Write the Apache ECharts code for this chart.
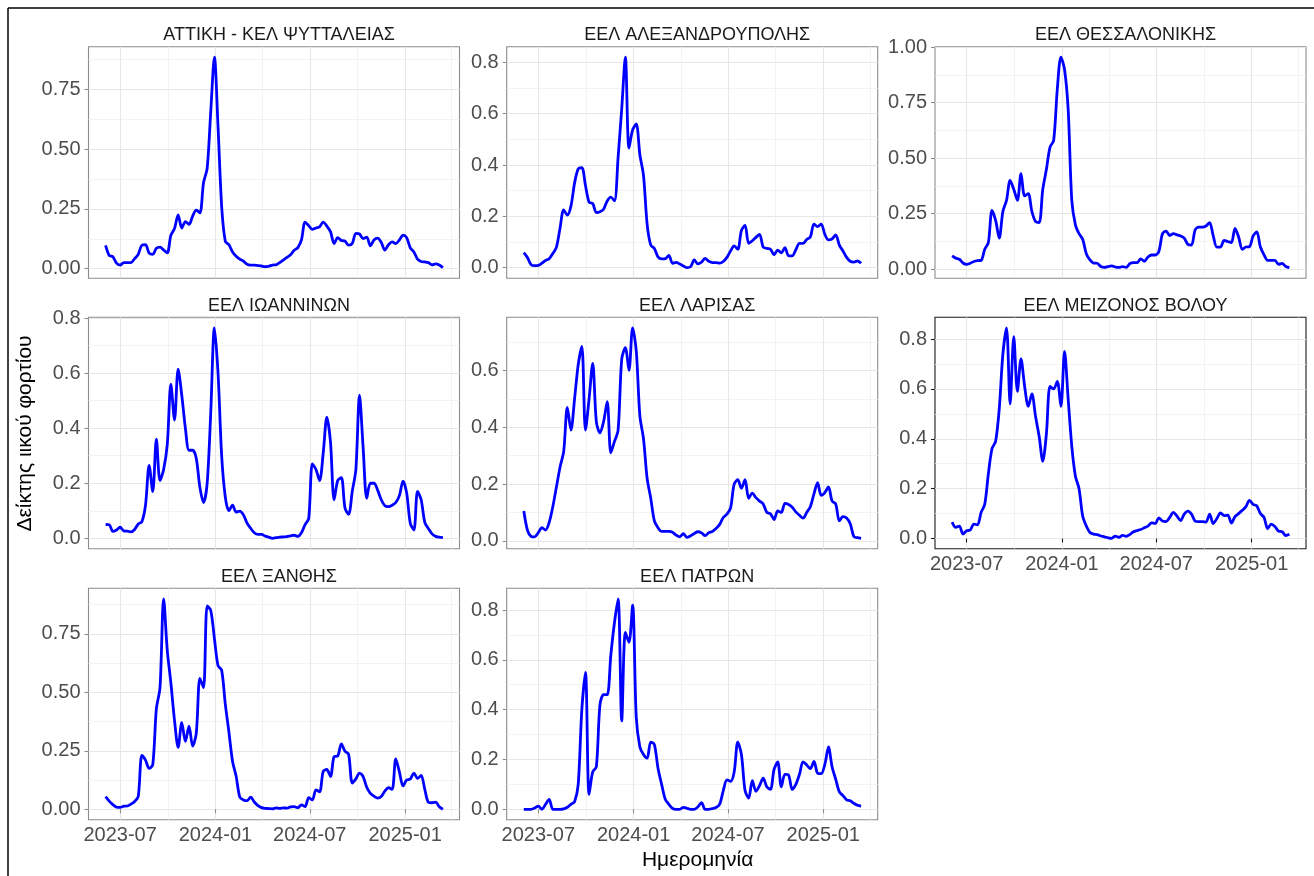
<!DOCTYPE html>
<html>
<head>
<meta charset="utf-8">
<script src="https://cdn.jsdelivr.net/npm/echarts@6/dist/echarts.min.js"></script>
<style>
html,body{margin:0;padding:0;background:#fff;}
#chart{width:1314px;height:876px;}
</style>
</head>
<body>
<div id="chart"></div>
<script>
// ---------- DATA ----------
const dates = [
 '2023-06-03','2023-06-10','2023-06-17','2023-06-24','2023-07-01','2023-07-08','2023-07-15','2023-07-22','2023-07-29','2023-08-05',
 '2023-08-12','2023-08-19','2023-08-26','2023-09-02','2023-09-09','2023-09-16','2023-09-23','2023-09-30','2023-10-07','2023-10-14',
 '2023-10-21','2023-10-28','2023-11-04','2023-11-11','2023-11-18','2023-11-25','2023-12-02','2023-12-09','2023-12-16','2023-12-23',
 '2023-12-30','2024-01-06','2024-01-13','2024-01-20','2024-01-27','2024-02-03','2024-02-10','2024-02-17','2024-02-24','2024-03-02',
 '2024-03-09','2024-03-16','2024-03-23','2024-03-30','2024-04-06','2024-04-13','2024-04-20','2024-04-27','2024-05-04','2024-05-11',
 '2024-05-18','2024-05-25','2024-06-01','2024-06-08','2024-06-15','2024-06-22','2024-06-29','2024-07-06','2024-07-13','2024-07-20',
 '2024-07-27','2024-08-03','2024-08-10','2024-08-17','2024-08-24','2024-08-31','2024-09-07','2024-09-14','2024-09-21','2024-09-28',
 '2024-10-05','2024-10-12','2024-10-19','2024-10-26','2024-11-02','2024-11-09','2024-11-16','2024-11-23','2024-11-30','2024-12-07',
 '2024-12-14','2024-12-21','2024-12-28','2025-01-04','2025-01-11','2025-01-18','2025-01-25','2025-02-01','2025-02-08','2025-02-15',
 '2025-02-22','2025-03-01','2025-03-08','2025-03-15'
];

const stationNames = [
 'ΑΤΤΙΚΗ - ΚΕΛ ΨΥΤΤΑΛΕΙΑΣ', 'ΕΕΛ ΑΛΕΞΑΝΔΡΟΥΠΟΛΗΣ', 'ΕΕΛ ΘΕΣΣΑΛΟΝΙΚΗΣ',
 'ΕΕΛ ΙΩΑΝΝΙΝΩΝ', 'ΕΕΛ ΛΑΡΙΣΑΣ', 'ΕΕΛ ΜΕΙΖΟΝΟΣ ΒΟΛΟΥ',
 'ΕΕΛ ΞΑΝΘΗΣ', 'ΕΕΛ ΠΑΤΡΩΝ'
];

const attiki = [
 0.097,0.055,0.05,0.023,0.015,0.025,0.025,0.025,0.042,0.06,
 0.098,0.10,0.065,0.06,0.085,0.09,0.078,0.066,0.14,0.168,
 0.225,0.17,0.197,0.185,0.22,0.245,0.233,0.36,0.42,0.66,
 0.885,0.594,0.26,0.115,0.10,0.07,0.052,0.04,0.031,0.018,
 0.015,0.015,0.013,0.011,0.008,0.01,0.015,0.016,0.025,0.036,
 0.047,0.058,0.077,0.088,0.12,0.195,0.18,0.164,0.17,0.175,
 0.195,0.178,0.155,0.105,0.13,0.118,0.115,0.098,0.105,0.148,
 0.145,0.126,0.132,0.095,0.12,0.128,0.11,0.078,0.1,0.112,
 0.105,0.12,0.14,0.13,0.087,0.07,0.04,0.03,0.028,0.025,
 0.016,0.02,0.015,0.004
];
const alexandroupoli = [
 0.059,0.04,0.012,0.008,0.009,0.018,0.028,0.035,0.055,0.08,
 0.155,0.225,0.205,0.24,0.33,0.385,0.39,0.32,0.255,0.25,
 0.215,0.218,0.228,0.26,0.275,0.26,0.43,0.62,0.82,0.466,
 0.537,0.56,0.44,0.36,0.17,0.088,0.075,0.042,0.034,0.035,
 0.048,0.017,0.021,0.014,0.007,0.0,0.004,0.03,0.015,0.022,
 0.036,0.025,0.02,0.02,0.018,0.024,0.04,0.065,0.085,0.072,
 0.145,0.165,0.095,0.105,0.118,0.13,0.08,0.075,0.072,0.05,
 0.068,0.058,0.078,0.046,0.046,0.07,0.095,0.095,0.11,0.12,
 0.17,0.16,0.17,0.13,0.108,0.112,0.128,0.088,0.065,0.04,
 0.025,0.022,0.026,0.017
];
const thessaloniki = [
 0.06,0.05,0.045,0.028,0.022,0.027,0.035,0.039,0.04,0.09,
 0.12,0.265,0.22,0.14,0.26,0.31,0.40,0.36,0.31,0.43,
 0.33,0.34,0.26,0.215,0.21,0.36,0.45,0.55,0.58,0.81,
 0.955,0.90,0.72,0.31,0.2,0.16,0.135,0.07,0.042,0.028,
 0.027,0.012,0.008,0.012,0.015,0.01,0.008,0.012,0.008,0.025,
 0.03,0.03,0.047,0.036,0.055,0.064,0.064,0.08,0.16,0.172,
 0.152,0.16,0.155,0.15,0.14,0.112,0.109,0.177,0.19,0.19,
 0.195,0.21,0.15,0.1,0.1,0.13,0.125,0.12,0.184,0.145,
 0.09,0.1,0.102,0.15,0.168,0.1,0.065,0.04,0.04,0.04,
 0.022,0.026,0.012,0.007
];
const ioannina = [
 0.05,0.049,0.025,0.03,0.04,0.027,0.026,0.023,0.032,0.052,
 0.06,0.12,0.265,0.17,0.36,0.21,0.25,0.34,0.56,0.43,
 0.615,0.52,0.40,0.32,0.32,0.29,0.185,0.13,0.2,0.46,
 0.765,0.6,0.3,0.15,0.1,0.12,0.095,0.099,0.085,0.055,
 0.036,0.02,0.014,0.014,0.008,0.004,0.0,0.002,0.004,0.005,
 0.006,0.009,0.011,0.007,0.02,0.05,0.072,0.27,0.25,0.21,
 0.31,0.44,0.35,0.14,0.21,0.22,0.11,0.087,0.17,0.25,
 0.52,0.33,0.145,0.2,0.2,0.175,0.14,0.118,0.115,0.12,
 0.13,0.155,0.208,0.165,0.055,0.03,0.17,0.14,0.058,0.035,
 0.016,0.007,0.004,0.002
];
const larisa = [
 0.105,0.038,0.016,0.014,0.029,0.046,0.038,0.065,0.12,0.19,
 0.26,0.315,0.47,0.39,0.5,0.62,0.685,0.39,0.5,0.625,
 0.42,0.38,0.42,0.49,0.31,0.35,0.39,0.64,0.68,0.6,
 0.75,0.67,0.44,0.36,0.22,0.15,0.07,0.046,0.033,0.033,
 0.033,0.03,0.02,0.014,0.025,0.012,0.018,0.026,0.032,0.028,
 0.018,0.029,0.033,0.043,0.058,0.082,0.094,0.115,0.2,0.215,
 0.185,0.215,0.15,0.168,0.152,0.14,0.13,0.1,0.095,0.075,
 0.105,0.1,0.132,0.128,0.118,0.102,0.09,0.08,0.1,0.12,
 0.165,0.205,0.16,0.17,0.19,0.14,0.13,0.07,0.085,0.08,
 0.06,0.015,0.011,0.009
];
const volos = [
 0.066,0.045,0.05,0.018,0.031,0.034,0.058,0.055,0.105,0.137,
 0.26,0.36,0.39,0.52,0.74,0.845,0.54,0.81,0.59,0.72,
 0.61,0.53,0.58,0.49,0.41,0.31,0.42,0.61,0.6,0.63,
 0.53,0.75,0.56,0.37,0.25,0.2,0.09,0.05,0.024,0.018,
 0.016,0.01,0.007,0.003,0.001,0.01,0.005,0.013,0.009,0.016,
 0.027,0.032,0.036,0.043,0.05,0.063,0.06,0.083,0.07,0.068,
 0.085,0.105,0.09,0.072,0.098,0.11,0.098,0.07,0.068,0.068,
 0.066,0.098,0.06,0.08,0.103,0.092,0.094,0.062,0.088,0.1,
 0.113,0.128,0.153,0.137,0.131,0.1,0.085,0.04,0.058,0.048,
 0.03,0.027,0.012,0.017
];
const xanthi = [
 0.054,0.035,0.02,0.009,0.008,0.013,0.014,0.022,0.033,0.055,
 0.23,0.21,0.175,0.19,0.43,0.52,0.9,0.68,0.54,0.38,
 0.265,0.37,0.29,0.355,0.27,0.325,0.56,0.52,0.87,0.85,
 0.73,0.614,0.595,0.45,0.33,0.205,0.14,0.052,0.04,0.037,
 0.052,0.031,0.016,0.007,0.004,0.003,0.002,0.006,0.004,0.006,
 0.005,0.01,0.011,0.007,0.019,0.011,0.05,0.04,0.083,0.075,
 0.162,0.17,0.14,0.225,0.228,0.28,0.248,0.235,0.112,0.13,
 0.155,0.14,0.094,0.068,0.056,0.048,0.055,0.078,0.092,0.085,
 0.215,0.16,0.1,0.125,0.129,0.155,0.132,0.145,0.085,0.03,
 0.028,0.031,0.011,0.0
];
const patra = [
 0,0,0,0.005,0.013,0,0.02,0.04,0,0,
 0,0.002,0.008,0.02,0.03,0.1,0.4,0.55,0.06,0.15,
 0.17,0.42,0.46,0.46,0.62,0.75,0.845,0.355,0.71,0.67,
 0.82,0.37,0.25,0.22,0.205,0.27,0.26,0.165,0.1,0.04,
 0.02,0.004,0,0,0.008,0.004,0,0,0.01,0.027,
 0,0,0.003,0.007,0.02,0.075,0.118,0.112,0.15,0.27,
 0.22,0.075,0.045,0.115,0.072,0.095,0.125,0.09,0.08,0.16,
 0.19,0.09,0.14,0.137,0.08,0.1,0.14,0.19,0.178,0.163,
 0.192,0.145,0.143,0.18,0.25,0.17,0.12,0.07,0.055,0.038,
 0.034,0.024,0.016,0.013
];

const seriesValues = [attiki, alexandroupoli, thessaloniki, ioannina, larisa, volos, xanthi, patra];

// tick labels
const xRange = ['2023-05-01', '2025-04-16'];
const xMajorTicks = ['2023-07-01', '2024-01-01', '2024-07-01', '2025-01-01'];
const xMinorTicks = ['2023-10-01', '2024-04-01', '2024-10-01', '2025-04-01'];
const yMajorQuarter = [0, 0.25, 0.5, 0.75, 1.0];
const yMinorQuarter = [0.125, 0.375, 0.625, 0.875];
const yMajorFifth = [0, 0.2, 0.4, 0.6, 0.8];
const yMinorFifth = [0.1, 0.3, 0.5, 0.7];
const yTickSet = ['quarter', 'fifth', 'quarter', 'fifth', 'fifth', 'fifth', 'quarter', 'fifth'];

// ---------- LAYOUT / STYLE ----------
const FONT = '"Liberation Sans", Arial, Helvetica, sans-serif';
const colLeft = [88.5, 506.7, 935];
const rowTop = [46.7, 317.3, 588.3];
const panelW = 371;
const panelH = 231.5;

function toTs(s) {
  const p = s.split('-').map(Number);
  return new Date(p[0], p[1] - 1, p[2]).getTime();
}
function fmtMonth(v) {
  const d = new Date(v + 12 * 3600 * 1000);
  const m = d.getMonth() + 1;
  return d.getFullYear() + '-' + (m < 10 ? '0' + m : m);
}

const xMin = toTs(xRange[0]);
const xMax = toTs(xRange[1]);
const xMajorTs = xMajorTicks.map(toTs);
const xMinorTs = xMinorTicks.map(toTs);

const option = {
  animation: false,
  backgroundColor: '#ffffff',
  title: [], grid: [], xAxis: [], yAxis: [], series: [],
  graphic: []
};

seriesValues.forEach((vals, k) => {
  const col = k % 3, row = Math.floor(k / 3);
  const left = colLeft[col], top = rowTop[row];
  const dark = (k === 5);
  const borderCol = dark ? '#1a1a1a' : '#8c8c8c';
  // ggplot-like 5% expansion of the data range
  const vMin = Math.min.apply(null, vals), vMax = Math.max.apply(null, vals);
  const pad = (vMax - vMin) * 0.05;
  const yMin = vMin - pad, yMax = vMax + pad;
  const quarter = yTickSet[k] === 'quarter';
  const majors = (quarter ? yMajorQuarter : yMajorFifth).filter(v => v >= yMin && v <= yMax);
  const minors = (quarter ? yMinorQuarter : yMinorFifth).filter(v => v >= yMin && v <= yMax);
  const digits = quarter ? 2 : 1;
  const showX = k >= 5;

  option.grid.push({
    left: left, top: top, width: panelW, height: panelH,
    show: true, borderColor: borderCol, borderWidth: 1.1, backgroundColor: 'transparent'
  });
  option.title.push({
    text: stationNames[k],
    left: left + panelW / 2, top: top - 26, textAlign: 'center',
    textStyle: { fontFamily: FONT, fontSize: 18, fontWeight: 'normal', color: '#1a1a1a', lineHeight: 19 }
  });

  // x axes (timestamps on a value scale): major + minor grid
  option.xAxis.push({
    type: 'value', gridIndex: k, min: xMin, max: xMax,
    axisLine: { show: false },
    axisTick: { show: showX, customValues: xMajorTs, length: 4, lineStyle: { color: borderCol, width: 1.1 } },
    axisLabel: { show: showX, customValues: xMajorTs, formatter: fmtMonth, fontFamily: FONT, fontSize: 20, color: '#4d4d4d', margin: 6 },
    splitLine: { show: true, lineStyle: { color: '#e6e6e6', width: 1.1 } }
  });
  option.xAxis.push({
    type: 'value', gridIndex: k, min: xMin, max: xMax, position: 'bottom',
    axisLine: { show: false },
    axisTick: { show: false, customValues: xMinorTs },
    axisLabel: { show: false, customValues: xMinorTs },
    splitLine: { show: true, lineStyle: { color: '#f0f0f0', width: 0.8 } }
  });
  // y axes: major + minor grid
  option.yAxis.push({
    type: 'value', gridIndex: k, min: yMin, max: yMax,
    axisLine: { show: false },
    axisTick: { show: true, customValues: majors, length: 4, lineStyle: { color: borderCol, width: 1.1 } },
    axisLabel: { show: true, customValues: majors, formatter: v => Number(v).toFixed(digits), fontFamily: FONT, fontSize: 20, color: '#4d4d4d', margin: 8 },
    splitLine: { show: true, lineStyle: { color: '#e6e6e6', width: 1.1 } }
  });
  option.yAxis.push({
    type: 'value', gridIndex: k, min: yMin, max: yMax, position: 'left',
    axisLine: { show: false },
    axisTick: { show: false, customValues: minors },
    axisLabel: { show: false, customValues: minors },
    splitLine: { show: true, lineStyle: { color: '#f0f0f0', width: 0.8 } }
  });

  option.series.push({
    type: 'line', name: stationNames[k],
    xAxisIndex: 2 * k, yAxisIndex: 2 * k,
    data: dates.map((d, i) => [toTs(d), vals[i]]),
    showSymbol: false, symbol: 'none', smooth: 0.3,
    lineStyle: { color: '#0000ff', width: 2.8 },
    itemStyle: { color: '#0000ff' },
    z: 5
  });
});

option.graphic = [
  { type: 'line', shape: { x1: 8, y1: 8, x2: 1314, y2: 8 }, style: { stroke: '#000', lineWidth: 1.5 } },
  { type: 'line', shape: { x1: 8, y1: 8, x2: 8, y2: 876 }, style: { stroke: '#000', lineWidth: 1.5 } },
  { type: 'text', x: 697.6, y: 860, style: { text: 'Ημερομηνία', font: '21px ' + FONT, fill: '#000', align: 'center', verticalAlign: 'middle' } },
  { type: 'text', x: 25, y: 433.5, rotation: Math.PI / 2, style: { text: 'Δείκτης ιικού φορτίου', font: '21px ' + FONT, fill: '#000', align: 'center', verticalAlign: 'middle' } }
];

const chart = echarts.init(document.getElementById('chart'), null, { renderer: 'canvas' });
chart.setOption(option);
</script>
</body>
</html>
